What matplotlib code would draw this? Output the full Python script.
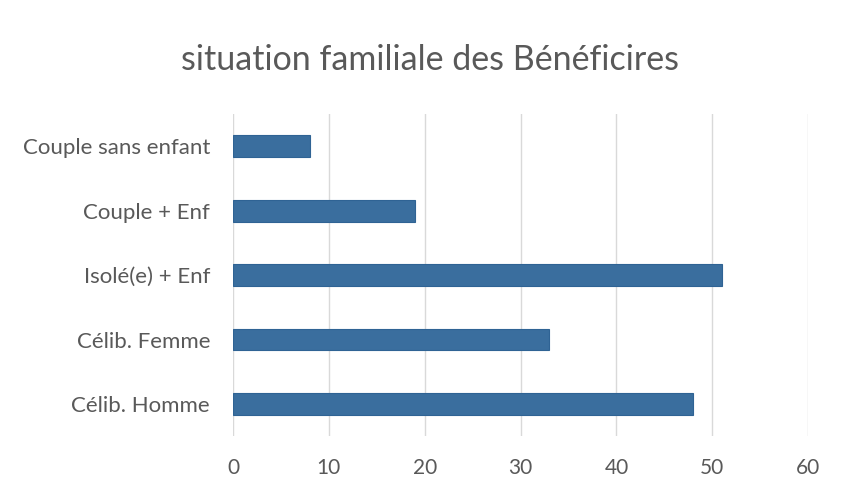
import matplotlib
matplotlib.use("Agg")
import matplotlib.pyplot as plt

categories = ["Célib. Homme", "Célib. Femme", "Isolé(e) + Enf", "Couple + Enf", "Couple sans enfant"]
values = [48, 33, 51, 19, 8]
xticks = [0, 10, 20, 30, 40, 50, 60]

plt.rcParams['font.family'] = ['Lato', 'DejaVu Sans']

fig = plt.figure(figsize=(8.41, 4.9), dpi=100)
ax = fig.add_axes([0.277, 0.110, 0.684, 0.657])
ax.barh(range(len(categories)), values, height=0.34, color="#3a6e9e", edgecolor="#2f6394", linewidth=0.8, zorder=3)
ax.set_xlim(0, 60)
ax.set_ylim(-0.5, len(categories) - 0.5)
ax.set_xticks(xticks)
ax.set_yticks(range(len(categories)))
ax.set_yticklabels(categories)
ax.tick_params(axis='both', length=0, colors="#595959")
ax.tick_params(axis='x', pad=16, labelsize=15)
ax.tick_params(axis='y', pad=16.5, labelsize=16)
ax.grid(axis='x', color="#d9d9d9", linewidth=1, zorder=0)
for s in ax.spines.values():
    s.set_visible(False)
fig.text(0.511, 0.877, "situation familiale des Bénéficires", ha='center', va='center', fontsize=24.5, color="#595959")
fig.savefig("out.png", dpi=100, facecolor="white")
